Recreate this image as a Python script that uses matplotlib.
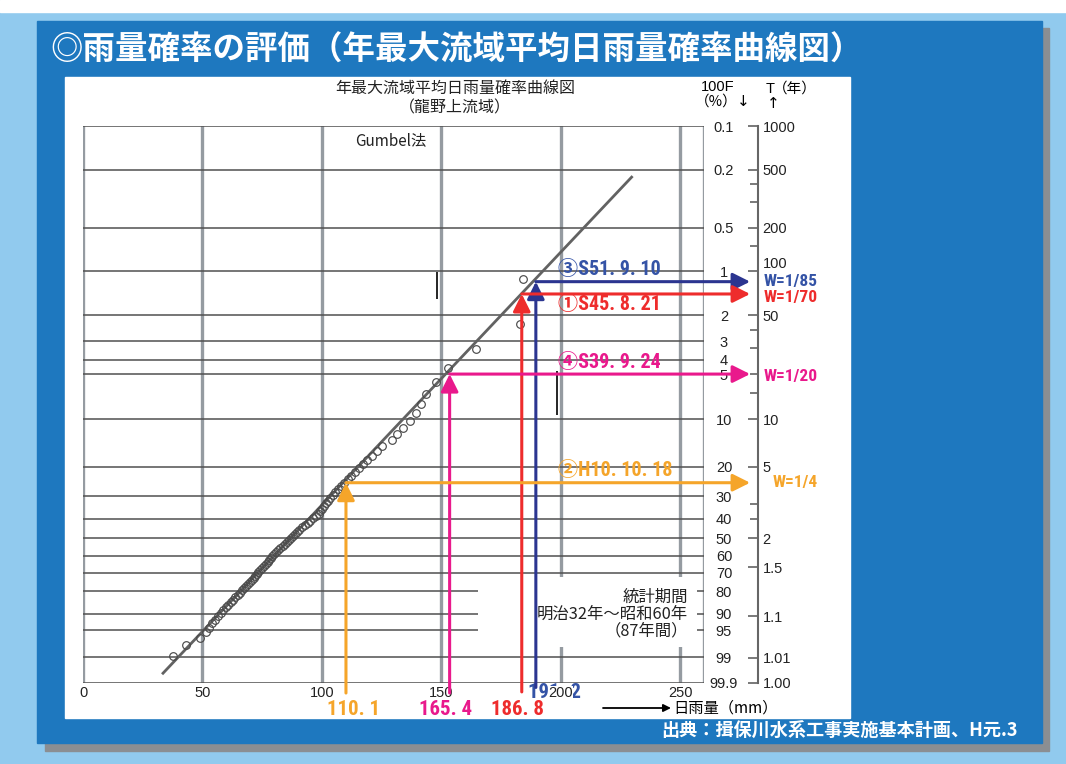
import numpy as np
import matplotlib.pyplot as plt
from matplotlib import font_manager as fm
from matplotlib.patches import Rectangle

plt.rcParams['font.family'] = ['Noto Sans CJK JP', 'DejaVu Sans']

# ---- data ----
# annual max basin-average daily rainfall (mm), ranked from largest
rain_sorted = [
    184.2, 182.8, 164.7, 153.0, 148.0, 143.5, 141.5, 139.5, 136.8, 134.0,
    131.5, 129.4, 125.0, 123.0, 121.0, 119.0, 117.3, 115.6, 114.0, 112.4,
    110.8, 109.3, 108.0, 106.8, 105.6, 104.5, 103.5, 102.6, 101.8, 101.0,
    100.2, 99.4, 98.6, 97.5, 96.4, 95.2, 94.0, 92.8, 91.5, 90.5,
    89.5, 88.6, 87.8, 87.0, 86.2, 85.4, 84.6, 83.6, 82.5, 81.6,
    80.8, 80.0, 79.3, 78.6, 78.0, 77.3, 76.5, 75.8, 75.0, 74.2,
    73.4, 72.7, 72.0, 71.4, 70.6, 69.8, 69.0, 68.2, 67.3, 66.5,
    65.6, 64.7, 63.8, 62.8, 61.8, 60.8, 59.8, 58.8, 57.6, 56.4,
    55.2, 54.0, 52.8, 51.5, 49.0, 43.0, 37.8,
]
# fitted Gumbel line end points (rain mm, exceedance %)
fit_rain = [33.5, 229.7]
fit_F = [99.73, 0.225]

grid_rain = [0, 50, 100, 150, 200, 250]
F_ticks = [0.1, 0.2, 0.5, 1, 2, 3, 4, 5, 10, 20, 30, 40, 50, 60, 70, 80, 90, 95, 99, 99.9]
F_labels = ['0.1', '0.2', '0.5', '1', '2', '3', '4', '5', '10', '20', '30', '40',
            '50', '60', '70', '80', '90', '95', '99', '99.9']
T_major = [1000, 500, 200, 100, 50, 10, 5, 2, 1.5, 1.1, 1.01, 1.001]
T_major_labels = ['1000', '500', '200', '100', '50', '10', '5', '2', '1.5', '1.1', '1.01', '1.00']
T_minor = [400, 300, 150, 40, 30, 20, 15, 3, 2.5]

event_names = ['③S51. 9. 10', '①S45. 8. 21', '④S39. 9. 24', '②H10. 10. 18']
event_rain_text = ['191. 2', '186. 8', '165. 4', '110. 1']
event_x = [189.6, 183.7, 153.5, 110.1]
event_T = [85, 70, 20, 4]
event_W = ['W=1/85', 'W=1/70', 'W=1/20', 'W=1/4']
arrow_colors = ['#2B3590', '#EE2C2C', '#E9198C', '#F5A52A']
text_colors = ['#3453A6', '#EE2C2C', '#E9198C', '#F5A52A']


def gumbel_fwd(F):
    F = np.asarray(F, dtype=float)
    with np.errstate(divide='ignore', invalid='ignore'):
        return np.log(-np.log(1 - F / 100.0))


def gumbel_inv(t):
    return 100.0 * (1 - np.exp(-np.exp(t)))


# pick a narrow latin face for the coloured labels if one is installed
font_names = {f.name for f in fm.fontManager.ttflist}
narrow_name, narrow_stretch = 'Liberation Sans', 'normal'
for cand in ['Liberation Sans Narrow', 'Roboto Condensed', 'Open Sans Condensed',
             'Noto Sans Condensed', 'DejaVu Sans Condensed']:
    if cand in font_names:
        narrow_name = cand
        break
else:
    for f in fm.fontManager.ttflist:
        if f.name in ('Noto Sans', 'DejaVu Sans', 'Open Sans', 'Roboto') and \
                f.stretch in ('condensed', 'semi-condensed'):
            narrow_name, narrow_stretch = f.name, f.stretch
            break
narrow = dict(family=[narrow_name, 'Noto Sans CJK JP'], stretch=narrow_stretch, fontweight='bold')

W, H = 1066, 764
fig = plt.figure(figsize=(10.66, 7.64), dpi=100)
fig.patch.set_facecolor('#91CAEE')
renderer = fig.canvas.get_renderer()


def fit_width(t, target_px):
    w = t.get_window_extent(renderer).width
    if w > 0:
        t.set_fontsize(t.get_fontsize() * target_px / w)


# slide background (pixel coordinates)
bg = fig.add_axes([0, 0, 1, 1])
bg.set_xlim(0, W)
bg.set_ylim(H, 0)
bg.axis('off')
bg.add_patch(Rectangle((0, 0), W, 12, color='white'))
bg.add_patch(Rectangle((45, 28), 1004, 723, color='#8B8E92'))
bg.add_patch(Rectangle((37, 21), 1005, 722, color='#1E78BF'))
bg.add_patch(Rectangle((65, 77), 785, 641, color='white'))
t = bg.text(50, 50, '◎雨量確率の評価（年最大流域平均日雨量確率曲線図）', color='white',
            fontsize=22, fontweight='bold', va='center', ha='left')
fit_width(t, 810)
t = bg.text(1018, 731, '出典：揖保川水系工事実施基本計画、H元.3', color='white',
            fontsize=13, fontweight='bold', va='center', ha='right')
fit_width(t, 355)

bg.text(455, 88, '年最大流域平均日雨量確率曲線図', fontsize=11.5, ha='center', va='center', color='#222222')
bg.text(455, 108, '（龍野上流域）', fontsize=11.5, ha='center', va='center', color='#222222')
bg.text(718, 87, '100F', fontsize=10.5, ha='center', va='center', family='Liberation Sans')
bg.text(716, 102, '（%）', fontsize=10.5, ha='center', va='center')
bg.text(743, 101, '↓', fontsize=11, ha='center', va='center', family='DejaVu Sans')
bg.text(770, 89, 'T', fontsize=10.5, ha='center', va='center', family='Liberation Sans')
bg.text(795, 89, '（年）', fontsize=10.5, ha='center', va='center')
bg.text(773, 103, '↑', fontsize=11, ha='center', va='center', family='DejaVu Sans')
bg.text(391, 141, 'Gumbel法', fontsize=11, ha='center', va='center', color='#222222')
bg.annotate('', xy=(671, 708), xytext=(603, 708),
            arrowprops=dict(arrowstyle='-|>', color='black', lw=1.3, mutation_scale=11,
                            shrinkA=0, shrinkB=0))
bg.text(673, 708, '日雨量（mm）', fontsize=11, ha='left', va='center')

# ---- main probability chart ----
x0, x1, y_top, y_bot = 83, 704, 126, 683
ax = fig.add_axes([x0 / W, 1 - y_bot / H, (x1 - x0) / W, (y_bot - y_top) / H])
ax.patch.set_alpha(0)
ax.set_yscale('function', functions=(gumbel_fwd, gumbel_inv))
ax.set_xlim(0, 260)
ax.set_ylim(99.9, 0.1)
ax.set_axisbelow(True)
for s in ax.spines.values():
    s.set_visible(False)

ax.set_xticks(grid_rain)
ax.xaxis.grid(True, color='#959ba1', lw=2.4)
ax.axvline(260, color='#959ba1', lw=2.4, zorder=0.5)
ax.yaxis.tick_right()
ax.set_yticks(F_ticks, labels=F_labels)
ax.yaxis.set_minor_locator(plt.NullLocator())
ax.yaxis.grid(True, color='#505050', lw=1.1)
ax.tick_params(axis='both', length=0, labelsize=10.5, labelfontfamily='Liberation Sans',
               labelcolor='#222222')
ax.tick_params(axis='x', pad=2)
ax.tick_params(axis='y', pad=14.4)
for lab in ax.get_yticklabels():
    lab.set_horizontalalignment('center')
# "200" is printed over the blue 191.2 value
for lab in ax.get_xticklabels():
    if lab.get_text() == '200':
        lab.set_bbox(dict(facecolor='white', edgecolor='none', pad=0.05))

# stray drafting marks
ax.vlines(148.1, 1.01, 1.55, color='black', lw=1.2, zorder=2)
ax.vlines(198.3, 4.8, 9.3, color='black', lw=1.2, zorder=2)

# white box behind the period note
ax.add_patch(Rectangle((165.3, 72.4), 91.7, 25.6, facecolor='white', edgecolor='none', zorder=1.5))
ax.text(253.3, 90.1, '統計期間\n明治32年～昭和60年\n（87年間）', fontsize=11.8, ha='right', va='center',
        multialignment='right', linespacing=1.0, color='#222222', zorder=1.6)

# sample points (Weibull plotting position) and fitted line
n = len(rain_sorted)
F_pos = [100.0 * (i + 1) / (n + 1) for i in range(n)]
ax.plot(fit_rain, fit_F, color='#626262', lw=2.0, zorder=2.8)
ax.plot(rain_sorted, F_pos, 'o', ms=5.5, mfc='none', mec='#4a4a4a', mew=0.85, zorder=3)

# event arrows
label_dy = [12, -11, 12, 12]
w_x = [284.8, 284.8, 284.8, 288.9]
w_dy = [0, -4, -2, 0]
bottom_dx = [19, -4, -4, 8]
bottom_y = [-0.0162, -0.0467, -0.0467, -0.0467]
start_y = [-0.008, -0.016, -0.018, -0.018]
for k in range(len(event_x)):
    F = 100.0 / event_T[k]
    c = arrow_colors[k]
    ap = dict(arrowstyle='-|>,head_length=0.7,head_width=0.35', color=c, lw=2.2,
              shrinkA=0, shrinkB=0, mutation_scale=15, clip_on=False)
    ax.annotate('', xy=(event_x[k], F), xytext=(event_x[k], start_y[k]),
                textcoords=('data', 'axes fraction'), arrowprops=ap,
                annotation_clip=False, zorder=4)
    ax.annotate('', xy=(279.3, F), xytext=(event_x[k], F), arrowprops=ap,
                annotation_clip=False, zorder=4)
    ax.annotate(event_names[k], xy=(198.9, F), xytext=(0, label_dy[k]),
                textcoords='offset pixels', color=text_colors[k], fontsize=14.5,
                ha='left', va='center', annotation_clip=False, zorder=5, **narrow)
    ax.annotate(event_W[k], xy=(w_x[k], F), xytext=(0, w_dy[k]),
                textcoords='offset pixels', color=text_colors[k], fontsize=12.5,
                ha='left', va='center', annotation_clip=False, zorder=5, **narrow)
    ax.annotate(event_rain_text[k], xy=(event_x[k], bottom_y[k]),
                xycoords=('data', 'axes fraction'), xytext=(bottom_dx[k], 0),
                textcoords='offset pixels', color=text_colors[k], fontsize=15,
                ha='center', va='center', annotation_clip=False, zorder=0.3, **narrow)

# ---- return period axis T ----
axT = fig.add_axes([758 / W, 1 - y_bot / H, 0.5 / W, (y_bot - y_top) / H])
axT.patch.set_alpha(0)
axT.set_yscale('function', functions=(gumbel_fwd, gumbel_inv))
axT.set_ylim(99.9, 0.1)
axT.set_xticks([])
for side in ['left', 'top', 'bottom']:
    axT.spines[side].set_visible(False)
axT.spines['right'].set_color('#666666')
axT.spines['right'].set_linewidth(1.5)
axT.yaxis.tick_right()
axT.set_yticks([100.0 / t for t in T_major], labels=T_major_labels)
axT.set_yticks([100.0 / t for t in T_minor], minor=True)
axT.tick_params(axis='y', which='major', direction='in', length=7, width=1.1, pad=3,
                labelsize=10.5, labelfontfamily='Liberation Sans', color='#555555',
                labelcolor='#222222')
axT.tick_params(axis='y', which='minor', direction='in', length=6, width=1.1, color='#555555')
# the "100" label sits a little above its tick
for lab in axT.get_yticklabels():
    if lab.get_text() == '100':
        lab.set_verticalalignment('bottom')

fig.savefig('out.png', dpi=100)
